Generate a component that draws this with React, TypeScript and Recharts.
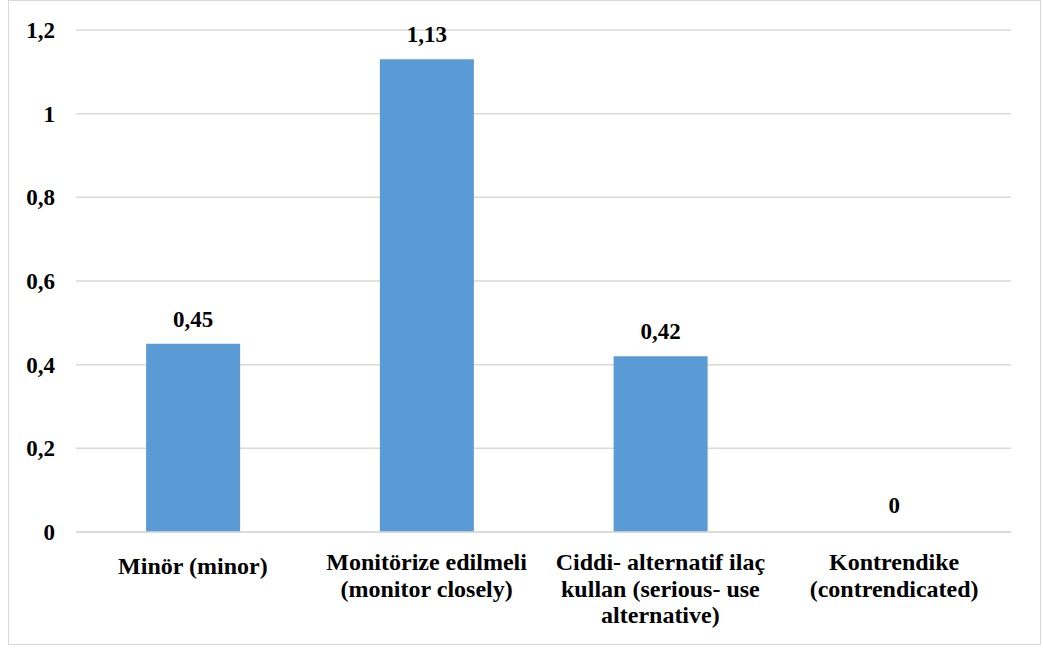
import React from 'react';
import { BarChart, Bar, XAxis, YAxis, CartesianGrid, LabelList, ReferenceDot } from 'recharts';

const categories = ['Minör (minor)', 'Monitörize edilmeli (monitor closely)', 'Ciddi- alternatif ilaç kullan (serious- use alternative)', 'Kontrendike (contrendicated)'];
const tickLines = [
  ['Minör (minor)'],
  ['Monitörize edilmeli', '(monitor closely)'],
  ['Ciddi- alternatif ilaç', 'kullan (serious- use', 'alternative)'],
  ['Kontrendike', '(contrendicated)'],
];
const values = [0.45, 1.13, 0.42, 0];
const yTicks = [0, 0.2, 0.4, 0.6, 0.8, 1, 1.2];

const data = categories.map((name, i) => ({ name, value: values[i] }));

const FONT = 'Liberation Serif';
const comma = (v: number) => String(v).replace('.', ',');
const textStyle = { fontFamily: FONT, fontWeight: 700, fontSize: 23, fill: '#000' };

const CategoryTick = (props: any) => {
  const { x, y, index } = props;
  const lines = tickLines[index] || [];
  // single-line label sits a little lower in the reference
  const base = lines.length === 1 ? 40 : 36;
  return (
    <g>
      {lines.map((line, i) => (
        <text
          key={i}
          x={x}
          y={y + base + i * 26.5}
          textAnchor="middle"
          style={{ fontFamily: FONT, fontWeight: 700, fontSize: 24, fill: '#000' }}
        >
          {line}
        </text>
      ))}
    </g>
  );
};

export default function App() {
  return (
    <div
      style={{
        position: 'absolute',
        left: 8,
        top: 0,
        width: 1031,
        height: 643,
        border: '1px solid #d9d9d9',
        background: '#fff',
        fontFamily: FONT,
      }}
    >
      <BarChart
        width={1031}
        height={643}
        data={data}
        margin={{ top: 29, right: 29, bottom: 0, left: 0 }}
        barCategoryGap="30%"
        style={{ fontFamily: FONT }}
      >
        <CartesianGrid vertical={false} stroke="#d9d9d9" strokeWidth={1.5} />
        <XAxis
          dataKey="name"
          height={112}
          tickLine={false}
          tickSize={0}
          axisLine={{ stroke: '#d9d9d9', strokeWidth: 1.5 }}
          interval={0}
          tick={<CategoryTick />}
        />
        <YAxis
          width={67}
          domain={[0, 1.2]}
          ticks={yTicks}
          axisLine={false}
          tickLine={false}
          tickSize={6}
          tickMargin={15}
          tickFormatter={comma}
          tick={textStyle}
        />
        <Bar dataKey="value" fill="#5b9bd5" isAnimationActive={false}>
          <LabelList
            dataKey="value"
            position="top"
            offset={17}
            formatter={(v: any) => (Number(v) === 0 ? '' : comma(Number(v)))}
            {...textStyle}
          />
        </Bar>
        <ReferenceDot
          x={categories[3]}
          y={values[3]}
          r={0}
          fill="none"
          stroke="none"
          label={{ value: comma(values[3]), position: 'top', offset: 19, ...textStyle }}
        />
      </BarChart>
    </div>
  );
}
